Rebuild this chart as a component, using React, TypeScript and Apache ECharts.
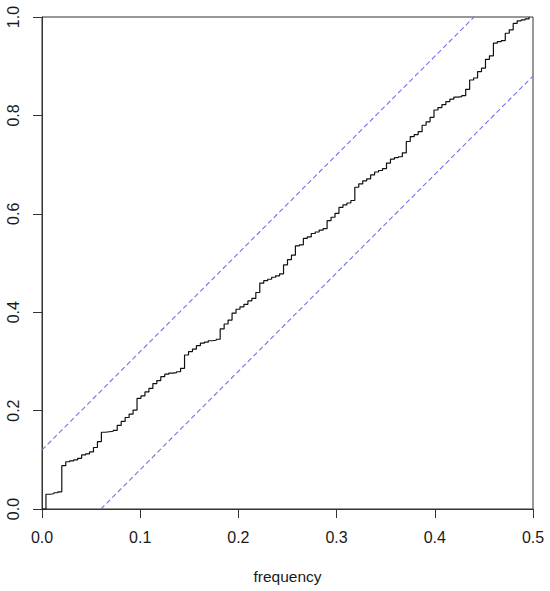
import React, { useEffect, useRef } from "react";
import * as echarts from "echarts";

// Cumulative periodogram values (one per Fourier frequency k/248, k = 0..123)
const N_OBS = 248;
const cumPeriodogram = [
  0.0, 0.03, 0.031, 0.033, 0.035, 0.088, 0.096, 0.098, 0.1, 0.103,
  0.11, 0.112, 0.116, 0.125, 0.137, 0.156, 0.157, 0.158, 0.16, 0.17,
  0.178, 0.186, 0.193, 0.201, 0.225, 0.23, 0.238, 0.245, 0.255, 0.261,
  0.269, 0.274, 0.276, 0.277, 0.279, 0.286, 0.313, 0.32, 0.325, 0.332,
  0.337, 0.339, 0.342, 0.343, 0.345, 0.366, 0.376, 0.384, 0.398, 0.406,
  0.411, 0.416, 0.423, 0.428, 0.44, 0.459, 0.464, 0.467, 0.471, 0.474,
  0.478, 0.496, 0.507, 0.516, 0.535, 0.537, 0.55, 0.553, 0.56, 0.563,
  0.567, 0.57, 0.586, 0.593, 0.601, 0.613, 0.618, 0.622, 0.627, 0.654,
  0.661, 0.667, 0.671, 0.679, 0.685, 0.688, 0.692, 0.703, 0.711, 0.714,
  0.716, 0.724, 0.747, 0.757, 0.761, 0.767, 0.78, 0.787, 0.796, 0.811,
  0.816, 0.822, 0.828, 0.833, 0.837, 0.838, 0.84, 0.853, 0.872, 0.876,
  0.889, 0.896, 0.914, 0.921, 0.947, 0.95, 0.952, 0.967, 0.974, 0.987,
  0.992, 0.994, 0.996, 1.0,
];

// Confidence band lines (dashed blue)
const upperBandX = [0, 0.44];
const upperBandY = [0.12, 1];
const lowerBandX = [0.06, 0.5];
const lowerBandY = [0, 0.88];

const xTicks = [0, 0.1, 0.2, 0.3, 0.4, 0.5];
const yTicks = [0, 0.2, 0.4, 0.6, 0.8, 1.0];
const xLabel = "frequency";

const FONT = "Liberation Sans, Arial, sans-serif";
const AXIS_COLOR = "#333333";
const BAND_COLOR = "#7272ec";

export default function App() {
  const ref = useRef<HTMLDivElement>(null);

  useEffect(() => {
    if (!ref.current) return;
    const chart = echarts.init(ref.current, null, { renderer: "svg" });

    const curve = cumPeriodogram.map((v, i) => [i / N_OBS, v]);
    const upper = upperBandX.map((x, i) => [x, upperBandY[i]]);
    const lower = lowerBandX.map((x, i) => [x, lowerBandY[i]]);

    const labelStyle = {
      fontFamily: FONT,
      fontSize: 16,
      color: "#1a1a1a",
    };

    chart.setOption({
      animation: false,
      backgroundColor: "#ffffff",
      grid: {
        left: 42,
        right: 17,
        top: 17,
        bottom: 82,
        show: true,
        borderColor: AXIS_COLOR,
        borderWidth: 1,
        outerBoundsMode: "none",
      },
      xAxis: {
        type: "value",
        min: xTicks[0],
        max: xTicks[xTicks.length - 1],
        interval: 0.1,
        name: xLabel,
        nameLocation: "middle",
        nameGap: 59,
        nameTextStyle: { ...labelStyle, fontSize: 15.5 },
        axisLine: { show: true, onZero: false, lineStyle: { color: AXIS_COLOR, width: 1 } },
        axisTick: { show: true, length: 9, lineStyle: { color: AXIS_COLOR, width: 1 } },
        axisLabel: {
          ...labelStyle,
          margin: 20,
          formatter: (v: number) => v.toFixed(1),
        },
        splitLine: { show: false },
      },
      yAxis: {
        type: "value",
        min: yTicks[0],
        max: yTicks[yTicks.length - 1],
        interval: 0.2,
        axisLine: { show: true, onZero: false, lineStyle: { color: AXIS_COLOR, width: 1 } },
        axisTick: { show: true, length: 9, lineStyle: { color: AXIS_COLOR, width: 1 } },
        axisLabel: {
          ...labelStyle,
          margin: 21,
          rotate: 90,
          formatter: (v: number) => v.toFixed(1),
        },
        splitLine: { show: false },
      },
      series: [
        {
          type: "line",
          data: curve,
          step: "end",
          showSymbol: false,
          symbol: "none",
          color: "#111111",
          lineStyle: { color: "#111111", width: 1.2 },
          silent: true,
          z: 3,
        },
        {
          type: "line",
          data: upper,
          showSymbol: false,
          symbol: "none",
          color: BAND_COLOR,
          lineStyle: { color: BAND_COLOR, width: 1.1, type: [5, 3] },
          silent: true,
          z: 2,
        },
        {
          type: "line",
          data: lower,
          showSymbol: false,
          symbol: "none",
          color: BAND_COLOR,
          lineStyle: { color: BAND_COLOR, width: 1.1, type: [5, 3] },
          silent: true,
          z: 2,
        },
      ],
    });

    return () => chart.dispose();
  }, []);

  return (
    <div
      ref={ref}
      style={{ position: "fixed", left: 0, top: 0, width: 550, height: 591, background: "#fff" }}
    />
  );
}
